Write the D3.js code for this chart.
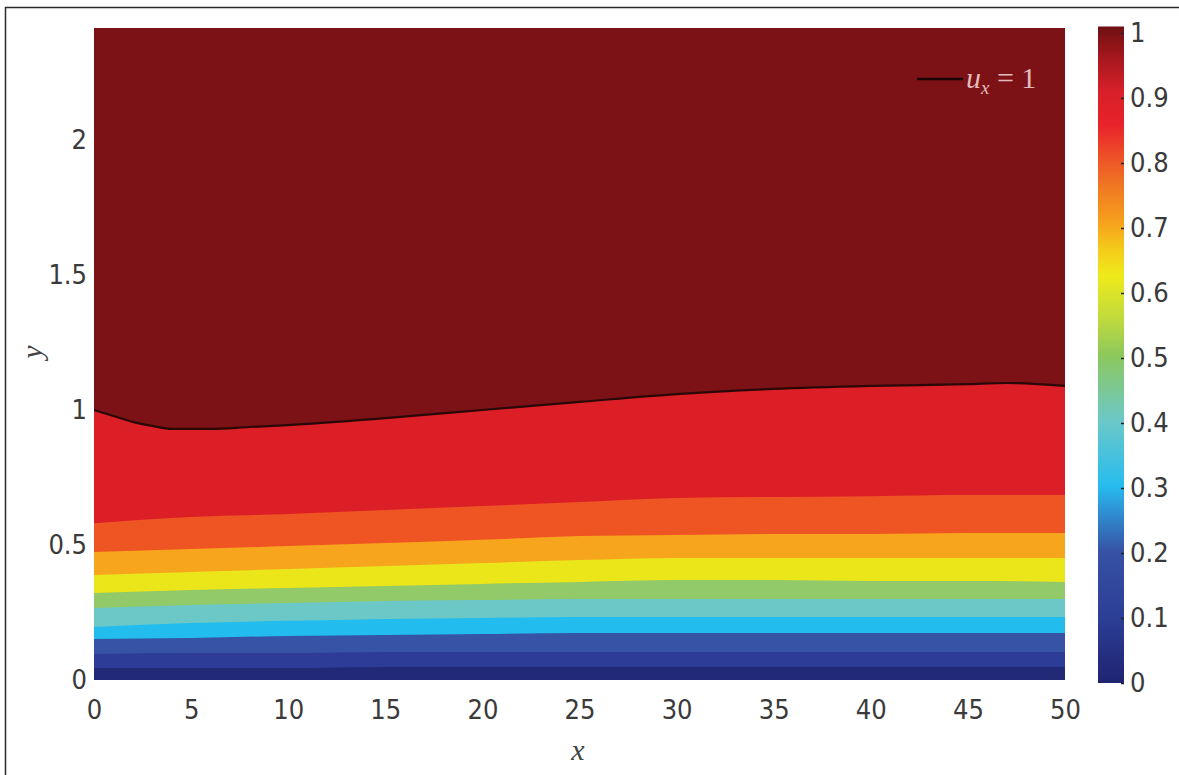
<!DOCTYPE html>
<html>
<head>
<meta charset="utf-8">
<script src="https://cdn.jsdelivr.net/npm/d3@7/dist/d3.min.js"></script>
<style>
  html, body { margin: 0; padding: 0; background: #fff; }
  svg { display: block; }
</style>
</head>
<body>
<svg id="chart" width="1179" height="775"></svg>
<script>
// ---------- DATA ----------
const xStations = [0, 5, 10, 15, 20, 25, 30, 35, 40, 45, 50];
const contourLevels = [0.1, 0.2, 0.3, 0.4, 0.5, 0.6, 0.7, 0.8, 0.9];
// y-position of each contour level at the x stations
const level01 = [0.044, 0.044, 0.044, 0.048, 0.048, 0.048, 0.048, 0.048, 0.048, 0.048, 0.048];
const level02 = [0.096, 0.100, 0.100, 0.104, 0.104, 0.104, 0.104, 0.104, 0.104, 0.104, 0.104];
const level03 = [0.152, 0.156, 0.163, 0.167, 0.170, 0.174, 0.174, 0.174, 0.174, 0.174, 0.174];
const level04 = [0.196, 0.211, 0.219, 0.226, 0.230, 0.233, 0.233, 0.233, 0.233, 0.233, 0.233];
const level05 = [0.267, 0.278, 0.285, 0.293, 0.296, 0.300, 0.300, 0.300, 0.300, 0.300, 0.300];
const level06 = [0.322, 0.333, 0.341, 0.348, 0.356, 0.363, 0.370, 0.370, 0.367, 0.367, 0.363];
const level07 = [0.389, 0.400, 0.411, 0.422, 0.433, 0.444, 0.452, 0.452, 0.452, 0.452, 0.452];
const level08 = [0.474, 0.485, 0.496, 0.507, 0.519, 0.533, 0.537, 0.541, 0.541, 0.544, 0.544];
const level09 = [0.581, 0.604, 0.615, 0.630, 0.644, 0.659, 0.674, 0.678, 0.681, 0.685, 0.685];
// u_x = 1 contour
const ux1X = [0, 1, 2, 3, 4, 6, 8, 10, 15, 20, 25, 30, 35, 40, 45, 47, 50];
const ux1Y = [1.0, 0.978, 0.956, 0.941, 0.93, 0.93, 0.937, 0.944, 0.97, 1.0, 1.03, 1.059, 1.078, 1.089, 1.096, 1.1, 1.089];

const bandColors = ["#222a78", "#2d3d97", "#3653a5", "#22bdee", "#6cc8c6", "#92c969",
                    "#eae61a", "#f7a51d", "#ef5523", "#dc1e26", "#7c1215"];
const xTicks = [0, 5, 10, 15, 20, 25, 30, 35, 40, 45, 50];
const yTicks = [0, 0.5, 1, 1.5, 2];
const yTickLabels = ["0", "0.5", "1", "1.5", "2"];
const cbTicks = [0, 0.1, 0.2, 0.3, 0.4, 0.5, 0.6, 0.7, 0.8, 0.9, 1];
const cbTickLabels = ["0", "0.1", "0.2", "0.3", "0.4", "0.5", "0.6", "0.7", "0.8", "0.9", "1"];
const cbStops = [
  [0.0, "#1f2470"], [0.1, "#2c3e96"], [0.2, "#3652a4"], [0.26, "#2f8fd2"], [0.3, "#26bcee"],
  [0.4, "#6cc8c8"], [0.5, "#8dc85b"], [0.55, "#bcd940"], [0.62, "#eeea1a"], [0.66, "#f4cc1b"],
  [0.7, "#f7a21c"], [0.75, "#f07d22"], [0.8, "#ee5227"], [0.85, "#e8222a"], [0.9, "#d8202a"],
  [0.95, "#a8181e"], [1.0, "#6e1013"]
];

// ---------- LAYOUT ----------
const svg = d3.select("#chart");
const W = 1179, H = 775;
const plot = { left: 94, right: 1065, top: 28, bottom: 680 };
const x = d3.scaleLinear().domain([0, 50]).range([plot.left, plot.right]);
const y = d3.scaleLinear().domain([0, 2]).range([plot.bottom, plot.bottom - 540]);
const yMax = y.invert(plot.top);
const tickFont = "'Liberation Sans Narrow', 'DejaVu Sans Condensed', 'Arial Narrow', sans-serif";
const serif = "'Liberation Serif', 'DejaVu Serif', serif";

svg.append("rect").attr("width", W).attr("height", H).attr("fill", "#fff");

// outer frame (top + left)
svg.append("path")
  .attr("d", `M5.5,${H} L5.5,7.5 L${W},7.5`)
  .attr("fill", "none").attr("stroke", "#2a2a2a").attr("stroke-width", 1.5);

svg.append("clipPath").attr("id", "plotclip").append("rect")
  .attr("x", plot.left).attr("y", plot.top)
  .attr("width", plot.right - plot.left).attr("height", plot.bottom - plot.top);

const g = svg.append("g").attr("clip-path", "url(#plotclip)");

// background: region above u_x = 1
g.append("rect")
  .attr("x", x(0)).attr("y", y(yMax))
  .attr("width", x(50) - x(0)).attr("height", y(0) - y(yMax))
  .attr("fill", bandColors[10]);

const curve = d3.curveMonotoneX;
const area = d3.area().curve(curve).x(d => x(d[0])).y0(y(0)).y1(d => y(d[1]));

// u_x = 1 filled area (red band beneath)
const ux1Pts = ux1X.map((v, i) => [v, ux1Y[i]]);
g.append("path").datum(ux1Pts).attr("d", area).attr("fill", bandColors[9]);

const levelRows = [level01, level02, level03, level04, level05, level06, level07, level08, level09];
for (let k = levelRows.length - 1; k >= 0; k--) {
  const pts = xStations.map((v, i) => [v, levelRows[k][i]]);
  g.append("path").datum(pts).attr("d", area).attr("fill", bandColors[k]);
}

// u_x = 1 contour line
const line = d3.line().curve(curve).x(d => x(d[0])).y(d => y(d[1]));
g.append("path").datum(ux1Pts).attr("d", line)
  .attr("fill", "none").attr("stroke", "#2a0808").attr("stroke-width", 2.2);

// ---------- AXES ----------
const xAxis = svg.append("g").attr("transform", `translate(0,${plot.bottom})`)
  .call(d3.axisBottom(x).tickValues(xTicks).tickSize(0).tickPadding(20).tickFormat(d3.format("d")));
xAxis.select(".domain").remove();
xAxis.selectAll("text").attr("font-family", tickFont).attr("font-size", 27).attr("fill", "#3a3a3a");

const yAxis = svg.append("g").attr("transform", `translate(${plot.left},0)`)
  .call(d3.axisLeft(y).tickValues(yTicks).tickSize(0).tickPadding(7).tickFormat((d, i) => yTickLabels[i]));
yAxis.select(".domain").remove();
yAxis.selectAll("text").attr("font-family", tickFont).attr("font-size", 27).attr("fill", "#3a3a3a");

// axis titles
svg.append("text").attr("x", 578).attr("y", 760).attr("text-anchor", "middle")
  .attr("font-family", serif).attr("font-style", "italic").attr("font-size", 30).attr("fill", "#444")
  .text("x");
svg.append("text").attr("transform", "translate(42,352) rotate(-90)").attr("text-anchor", "middle")
  .attr("font-family", serif).attr("font-style", "italic").attr("font-size", 30).attr("fill", "#444")
  .text("y");

// ---------- LEGEND ----------
const legY = 79;
svg.append("line").attr("x1", 917).attr("x2", 963).attr("y1", legY).attr("y2", legY)
  .attr("stroke", "#1a0404").attr("stroke-width", 2.4);
const lt = svg.append("text").attr("x", 966).attr("y", legY + 9)
  .attr("font-family", serif).attr("font-size", 30).attr("fill", "#e2bcbc");
lt.append("tspan").attr("font-style", "italic").text("u");
lt.append("tspan").attr("font-style", "italic").attr("font-size", 19).attr("dy", 6).text("x");
lt.append("tspan").attr("dy", -6).text(" = 1");

// ---------- COLORBAR ----------
const cb = { left: 1098, right: 1124 };
const cbScale = d3.scaleLinear().domain([0, 1]).range([683, 33]);
const grad = svg.append("defs").append("linearGradient").attr("id", "cbgrad")
  .attr("x1", 0).attr("y1", 1).attr("x2", 0).attr("y2", 0);
grad.selectAll("stop").data(cbStops).join("stop")
  .attr("offset", d => d[0]).attr("stop-color", d => d[1]);
svg.append("rect").attr("x", cb.left).attr("y", cbScale(1.01))
  .attr("width", cb.right - cb.left).attr("height", cbScale(0) - cbScale(1.01))
  .attr("fill", "url(#cbgrad)");
const cbAxis = svg.append("g").attr("transform", `translate(${cb.right},0)`)
  .call(d3.axisRight(cbScale).tickValues(cbTicks).tickSizeInner(-3).tickSizeOuter(0).tickPadding(6)
    .tickFormat((d, i) => cbTickLabels[i]));
cbAxis.select(".domain").remove();
cbAxis.selectAll("line").attr("stroke", "#222").attr("stroke-width", 1.5);
cbAxis.selectAll("text").attr("font-family", tickFont).attr("font-size", 27).attr("fill", "#3a3a3a");
</script>
</body>
</html>
